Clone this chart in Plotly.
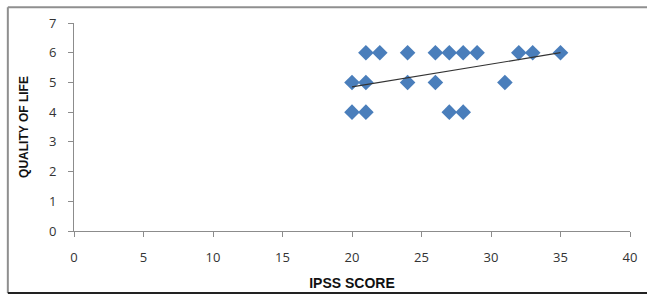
import plotly.graph_objects as go

ipss_score = [21, 22, 24, 26, 27, 28, 29, 32, 33, 35,
              20, 21, 24, 26, 31,
              20, 21, 27, 28]
quality_of_life = [6, 6, 6, 6, 6, 6, 6, 6, 6, 6,
                   5, 5, 5, 5, 5,
                   4, 4, 4, 4]
trend_x = [20, 35]
trend_y = [4.85, 6.0]
x_ticks = [0, 5, 10, 15, 20, 25, 30, 35, 40]
y_ticks = [0, 1, 2, 3, 4, 5, 6, 7]

W, H = 647, 298
ML, MR, MT, MB = 74, 10, 23, 64
pw, ph = W - ML - MR, H - MT - MB

def px_x(p):
    return (p - ML) / pw

def px_y(p):
    return (H - MB - p) / ph

fig = go.Figure()
fig.add_trace(go.Scatter(
    x=ipss_score, y=quality_of_life, mode="markers",
    marker=dict(symbol="diamond", size=12, color="#4a7ebb",
                line=dict(width=0)),
    showlegend=False, cliponaxis=False))
fig.add_trace(go.Scatter(
    x=trend_x, y=trend_y, mode="lines",
    line=dict(color="#333333", width=1.2),
    showlegend=False))

axis_common = dict(
    showgrid=False, zeroline=False, showline=True, linecolor="#8c8c8c",
    linewidth=1, ticks="outside", ticklen=5, tickcolor="#8c8c8c",
    tickfont=dict(family="Open Sans, Liberation Sans, sans-serif", size=13, color="#333333"),
    ticklabelstandoff=9,
)
fig.update_xaxes(range=[0, 40], tickvals=x_ticks, **axis_common,
                 title=dict(text="<b>IPSS SCORE</b>", standoff=13,
                            font=dict(family="Liberation Sans Narrow, Liberation Sans, sans-serif",
                                      size=14, color="#111111")))
fig.update_yaxes(range=[0, 7], tickvals=y_ticks, **axis_common,
                 title=dict(text="<b>QUALITY OF LIFE</b>", standoff=17,
                            font=dict(family="Liberation Sans Narrow, Liberation Sans, sans-serif",
                                      size=12, color="#111111")))

shapes = [
    dict(type="line", xref="paper", yref="paper", x0=px_x(7), x1=px_x(660),
         y0=px_y(7), y1=px_y(7), line=dict(color="#8f8f8f", width=2)),
    dict(type="line", xref="paper", yref="paper", x0=px_x(7), x1=px_x(7),
         y0=px_y(7), y1=px_y(297), line=dict(color="#8f8f8f", width=2)),
    dict(type="line", xref="paper", yref="paper", x0=px_x(7), x1=px_x(660),
         y0=px_y(297), y1=px_y(297), line=dict(color="#222222", width=2)),
]

fig.update_layout(
    width=W, height=H, margin=dict(l=ML, r=MR, t=MT, b=MB),
    paper_bgcolor="white", plot_bgcolor="white", shapes=shapes,
)
fig.write_html("out.html", config={"displayModeBar": False},
               post_script="document.body.style.margin='0px';document.body.style.overflow='hidden';")
